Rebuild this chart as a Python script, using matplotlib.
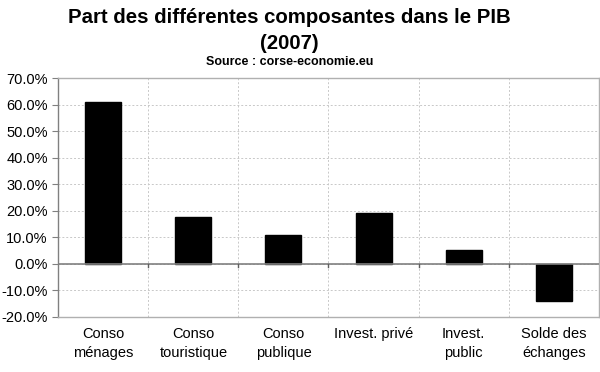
import matplotlib
matplotlib.use("Agg")
import matplotlib.pyplot as plt
from matplotlib.ticker import FuncFormatter, FixedLocator, NullFormatter

plt.rcParams['font.family'] = ['Liberation Sans', 'DejaVu Sans']

categories = ["Conso\nménages", "Conso\ntouristique", "Conso\npublique",
              "Invest. privé", "Invest.\npublic", "Solde des\néchanges"]
values = [61.0, 17.5, 10.8, 19.0, 5.3, -14.0]

fig = plt.figure(figsize=(6, 3.72), dpi=100)
ax = fig.add_axes([0.097, 0.148, 0.901, 0.642])

x = list(range(len(categories)))
ax.bar(x, values, width=0.4, color='black', edgecolor='black', zorder=3)

ax.set_xlim(-0.5, len(categories) - 0.5)
ax.set_ylim(-20, 70)
ax.set_yticks(range(-20, 71, 10))
ax.yaxis.set_major_formatter(FuncFormatter(lambda v, p: f"{v:.1f}%"))
ax.tick_params(axis='y', labelsize=10.5, length=4, color='#808080', direction='out')

# category boundaries for ticks/grid, labels centred
bounds = [i - 0.5 for i in range(len(categories) + 1)]
ax.xaxis.set_major_locator(FixedLocator(bounds))
ax.xaxis.set_major_formatter(NullFormatter())
ax.xaxis.set_minor_locator(FixedLocator(x))
ax.set_xticklabels(categories, minor=True)
ax.tick_params(axis='x', which='minor', length=0, labelsize=10.5, pad=7)
ax.tick_params(axis='x', which='major', length=0)
for lab in ax.get_xticklabels(minor=True):
    lab.set_linespacing(1.45)

ax.grid(True, which='major', axis='both', color='#c8c8c8', linestyle=(0, (2, 2)), linewidth=0.7, zorder=0)

# zero axis with small boundary ticks
ax.axhline(0, color='#808080', linewidth=1.2, zorder=4)
for b in bounds[1:-1]:
    ax.plot([b, b], [0, -1.2], color='#606060', linewidth=1, zorder=4)

for s in ['top', 'right', 'bottom']:
    ax.spines[s].set_color('#b0b0b0')
ax.spines['left'].set_color('#808080')
for s in ax.spines.values():
    s.set_linewidth(1)

fig.text(0.483, 0.952, "Part des différentes composantes dans le PIB",
         ha='center', va='center', fontsize=14.7, fontweight='bold')
fig.text(0.483, 0.882, "(2007)",
         ha='center', va='center', fontsize=14.7, fontweight='bold')
fig.text(0.483, 0.833, "Source : corse-economie.eu", ha='center', va='center',
         fontsize=9, fontweight='bold')

fig.savefig("out.png", dpi=100)
